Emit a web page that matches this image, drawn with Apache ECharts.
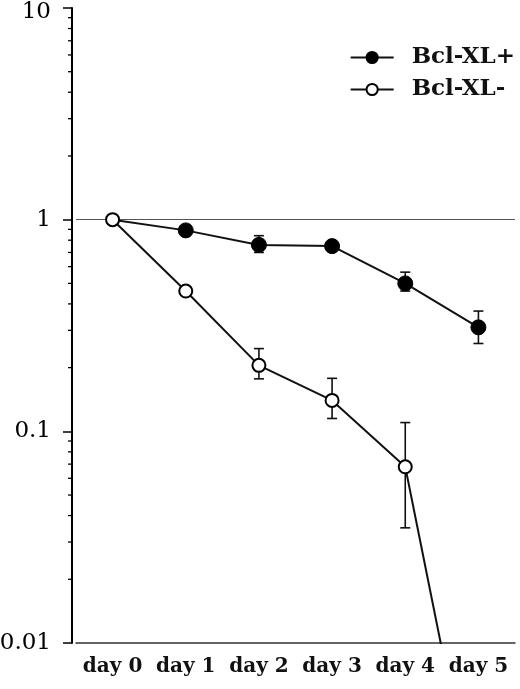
<!DOCTYPE html>
<html>
<head>
<meta charset="utf-8">
<script src="https://cdn.jsdelivr.net/npm/echarts@6/dist/echarts.min.js"></script>
<style>
  html, body { margin: 0; padding: 0; background: #fff; }
  #chart { width: 520px; height: 689px; }
</style>
</head>
<body>
<div id="chart"></div>
<script>
// categories on the x axis
const days = ["day 0", "day 1", "day 2", "day 3", "day 4", "day 5"]

// Bcl-XL+ (filled circles)
const plusMean = [1, 0.89, 0.76, 0.75, 0.5, 0.31]
const plusLow = [1, 0.86, 0.7, 0.72, 0.46, 0.26]
const plusHigh = [1, 0.92, 0.84, 0.78, 0.565, 0.37]

// Bcl-XL- (open circles), day 5 falls below the axis
const minusMean = [1, 0.46, 0.205, 0.14, 0.068, 0.0013]
const minusLow = [1, 0.44, 0.177, 0.115, 0.035, 0.0013]
const minusHigh = [1, 0.48, 0.246, 0.178, 0.11, 0.0013]

// y axis: major labels and minor tick values
const majorTicks = [0.01, 0.1, 1, 10]
const minorTicks = [
  0.02, 0.03, 0.04, 0.05, 0.06, 0.07, 0.08, 0.09,
  0.2, 0.3, 0.4, 0.5, 0.6, 0.7, 0.8, 0.9,
  2, 3, 4, 5, 6, 7, 8, 9
]

const serif = "DejaVu Serif, Liberation Serif, serif"

// error bar rows: [dayIndex, low, high]
function errRows(low, high) {
  return days.map((d, i) => [i, low[i], high[i]])
}

function errorBarItem(params, api) {
  const lo = api.value(1)
  const hi = api.value(2)
  if (hi / lo < 1.05) return null
  const top = api.coord([api.value(0), hi])
  const bot = api.coord([api.value(0), lo])
  const cap = 5
  const style = { stroke: "#111", lineWidth: 1.6 }
  return {
    type: "group",
    children: [
      { type: "line", shape: { x1: top[0], y1: top[1], x2: bot[0], y2: bot[1] }, style },
      { type: "line", shape: { x1: top[0] - cap, y1: top[1], x2: top[0] + cap, y2: top[1] }, style },
      { type: "line", shape: { x1: bot[0] - cap, y1: bot[1], x2: bot[0] + cap, y2: bot[1] }, style }
    ]
  }
}

// 只显示主刻度标签，顶部的 10 稍微下移
function yLabel(v) {
  const t = majorTicks.find(m => Math.abs(m - v) / m < 1e-6)
  if (t === undefined) return ""
  return t === 10 ? "{top|10}" : String(t)
}

const chart = echarts.init(document.getElementById("chart"))

chart.setOption({
  animation: false,
  backgroundColor: "#fff",
  grid: { left: 76, right: 5, top: 8, bottom: 46, containLabel: false, outerBoundsMode: "none" },
  legend: {
    orient: "vertical",
    right: 0,
    top: 41,
    itemGap: 9,
    itemWidth: 43,
    itemHeight: 14,
    textStyle: { fontFamily: serif, fontSize: 23, fontWeight: "bold", color: "#111", padding: [0, 0, 0, 13] },
    data: ["Bcl-XL+", "Bcl-XL-"]
  },
  xAxis: {
    type: "category",
    data: days,
    boundaryGap: true,
    axisLine: { lineStyle: { color: "#333", width: 1.5 } },
    axisTick: { alignWithLabel: true, length: 5, lineStyle: { color: "#333", width: 1.5 } },
    axisLabel: { interval: 0, fontFamily: serif, fontSize: 20, fontWeight: "bold", color: "#111", margin: 14 },
    splitLine: { show: false }
  },
  yAxis: {
    type: "log",
    logBase: 10,
    min: 0.01,
    max: 10,
    offset: 4,
    axisLine: { show: true, lineStyle: { color: "#000", width: 2 } },
    axisTick: { show: true, length: 9, lineStyle: { color: "#000", width: 1.5 } },
    axisLabel: {
      fontFamily: serif, fontSize: 23, color: "#000", margin: 21,
      formatter: yLabel,
      rich: {
        top: { fontFamily: serif, fontSize: 23, color: "#000", padding: [9, 0, 0, 0] }
      }
    },
    splitLine: { show: false }
  },
  series: [
    {
      name: "minor ticks",
      type: "custom",
      silent: true,
      clip: false,
      data: minorTicks.map(v => [0, v]),
      renderItem: (params, api) => {
        const p = api.coord([0, api.value(1)])
        const x = params.coordSys.x - 4
        return {
          type: "line",
          shape: { x1: x - 4, y1: p[1], x2: x, y2: p[1] },
          style: { stroke: "#000", lineWidth: 1.3 }
        }
      }
    },
    {
      name: "Bcl-XL+ err",
      type: "custom",
      silent: true,
      data: errRows(plusLow, plusHigh),
      renderItem: errorBarItem,
      z: 3
    },
    {
      name: "Bcl-XL- err",
      type: "custom",
      silent: true,
      data: errRows(minusLow, minusHigh),
      renderItem: errorBarItem,
      z: 3
    },
    {
      name: "Bcl-XL+",
      type: "line",
      data: plusMean,
      clip: true,
      symbol: "circle",
      symbolSize: (v, p) => (p.dataIndex === 0 ? 0 : 15),
      itemStyle: { color: "#000", borderColor: "#000", borderWidth: 1 },
      lineStyle: { color: "#111", width: 2 },
      z: 4,
      markLine: {
        silent: true,
        symbol: "none",
        label: { show: false },
        lineStyle: { color: "#555", width: 1, type: "solid" },
        data: [{ yAxis: 1 }]
      }
    },
    {
      name: "Bcl-XL-",
      type: "line",
      data: minusMean,
      clip: true,
      symbol: "circle",
      symbolSize: 13,
      itemStyle: { color: "#fff", borderColor: "#000", borderWidth: 2 },
      lineStyle: { color: "#111", width: 2 },
      z: 5
    }
  ]
})
</script>
</body>
</html>
